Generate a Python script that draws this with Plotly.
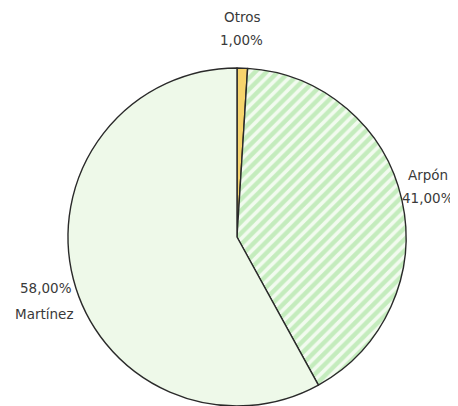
import plotly.graph_objects as go

labels = ["Otros", "Arpón", "Martínez"]
values = [1.0, 41.0, 58.0]
colors = ["#f6d46c", "#c4ecbd", "#eef9e9"]
patterns = ["", "/", ""]

W, H = 458, 406
OFF = 8  # page body margin offset

def fmt(v):
    return f"{v:.2f}".replace(".", ",") + "%"

fig = go.Figure(go.Pie(
    labels=labels, values=values, sort=False, direction="clockwise", rotation=0,
    textinfo="none", hoverinfo="label+percent",
    marker=dict(colors=colors, line=dict(color="#2a2a2a", width=1.4),
                pattern=dict(shape=patterns, fgcolor="#f2fbef", bgcolor=colors, size=8, solidity=0.45,
                             fillmode="replace")),
    domain=dict(x=[(68 - OFF) / W, (406 - OFF) / W], y=[OFF / H, (H - 68 + OFF) / H]),
    showlegend=False,
))

font = dict(family="DejaVu Sans, Arial, sans-serif", size=13.5, color="#3a3a3a")

def ann(text, px, py, anchor="center"):
    fig.add_annotation(text=text, x=(px - OFF) / W, y=1 - (py - OFF) / H, xref="paper", yref="paper",
                       showarrow=False, xanchor=anchor, yanchor="middle", font=font)

ann(labels[0], 242, 17)
ann(fmt(values[0]), 241, 40)
ann(labels[1], 428, 175)
ann(fmt(values[1]), 428, 198)
ann(fmt(values[2]), 74, 288, "right")
ann(labels[2], 75, 314, "right")

fig.update_layout(width=W, height=H, margin=dict(l=0, r=0, t=0, b=0),
                  paper_bgcolor="white", plot_bgcolor="white")
fig.write_html("out.html")
